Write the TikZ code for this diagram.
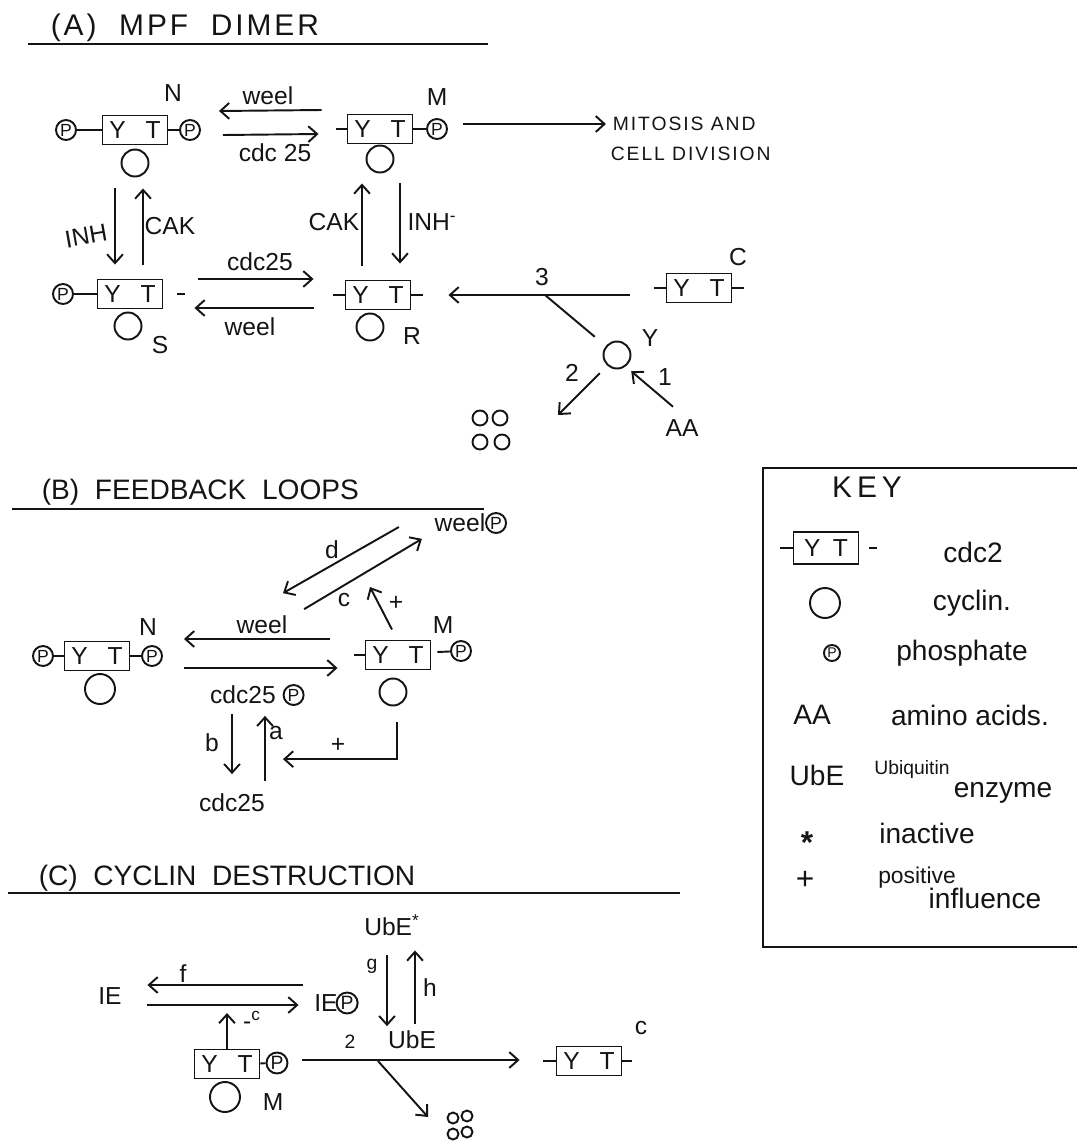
\documentclass[tikz,border=0pt]{standalone}
\usepackage{fontspec}
\setmainfont{Liberation Sans}
\newfontfamily\capsfont[LetterSpace=10]{Liberation Sans}
\usepackage{xcolor}
\usepackage{tikz}
\usetikzlibrary{arrows.meta,positioning}
\definecolor{ink}{HTML}{141414}

\begin{document}
\begin{tikzpicture}[x=0.02cm,y=-0.02cm,>={Straight Barb[length=5pt,width=9pt]},
  ink,line width=1.1pt,
  every node/.style={font=\fontsize{14}{16}\selectfont},
  cdcbox/.style={draw,rectangle,minimum width=1.3cm,minimum height=0.58cm,inner sep=0pt},
  cyc/.style={draw,circle,minimum size=0.54cm,inner sep=0pt},
  phos/.style={draw,circle,minimum size=0.4cm,inner sep=0pt,font=\fontsize{10}{10}\selectfont},
  frag/.style={draw,circle,minimum size=0.3cm,inner sep=0pt},
  title/.style={anchor=west,font=\fontsize{16}{18}\selectfont},
  small/.style={font=\fontsize{11}{12}\selectfont},
  keytx/.style={font=\fontsize{16}{18}\selectfont}]
  \useasboundingbox (0,0) rectangle (1077,1144);

  % (A) MPF dimer
  \node[title,font=\capsfont\fontsize{17}{19}\selectfont] (ttlA) at (44,28) {(A)\ \ MPF\ \ DIMER};
  \draw (28,44) -- (488,44);

  \node[cdcbox] (nbox) at (135,130) {Y\hspace{.8em}T};
  \node[phos] (nPl) at (66,130) {P};
  \node[phos] (nPr) at (190,130) {P};
  \node[cyc] (ncyc) at (135,163) {};
  \node (nlab) at (173,93) {N};
  \draw (nPl) -- (nbox);
  \draw (nbox) -- (nPr);

  \node[cdcbox] (mbox) at (380,129) {Y\hspace{.8em}T};
  \node[phos] (mPr) at (437,129) {P};
  \node[cyc] (mcyc) at (380,159) {};
  \node (mlab) at (437,97) {M};
  \draw (mbox) -- (mPr);
  \draw (mbox.west) -- ++(-11,0);

  \node[anchor=west,font=\capsfont\fontsize{11}{12}\selectfont] (mitosis) at (606,124) {MITOSIS AND};
  \node[anchor=west,font=\capsfont\fontsize{11}{12}\selectfont] (celldiv) at (604,154) {CELL DIVISION};
  \draw[->] ([shift={(15,-5)}]mPr.east) -- (mitosis.west);

  \draw[->] ([shift={(-25,-19)}]mbox.west) -- ([shift={(18,-19)}]nPr.east);
  \draw[->] ([shift={(22,5)}]nPr.east) -- ([shift={(-28,5)}]mbox.west);
  \node (weelA) at (268,96) {weel};
  \node (cdcA) at (275,153) {cdc 25};

  \node[cdcbox] (sbox) at (130,294) {Y\hspace{.8em}T};
  \node[phos] (sPl) at (63,294) {P};
  \node[cyc] (scyc) at (128,326) {};
  \node (slab) at (160,345) {S};
  \draw (sPl) -- (sbox);
  \draw ([shift={(14,0)}]sbox.east) -- ++(8,0);

  \node[cdcbox] (rbox) at (378,295) {Y\hspace{.8em}T};
  \node[cyc] (rcyc) at (370,327) {};
  \node (rlab) at (412,336) {R};
  \draw (rbox.west) -- ++(-12,0);
  \draw (rbox.east) -- ++(12,0);

  \draw[->] ([shift={(-20,11)}]ncyc.south) -- ([shift={(-15,-14)}]sbox.north);
  \draw[->] ([shift={(13,-14)}]sbox.north) -- ([shift={(8,11)}]ncyc.south);
  \draw[->] ([shift={(-16,-14)}]rbox.north) -- ([shift={(-18,10)}]mcyc.south);
  \draw[->] ([shift={(20,10)}]mcyc.south) -- ([shift={(22,-16)}]rbox.north);
  \node[rotate=10] (inhL) at (86,236) {INH};
  \node (cakL) at (170,226) {CAK};
  \node (cakR) at (334,222) {CAK};
  \node (inhR) at (432,222) {INH\textsuperscript{-}};

  \draw[->] ([shift={(35,-15)}]sbox.east) -- ([shift={(-31,-16)}]rbox.west);
  \draw[->] ([shift={(-31,13)}]rbox.west) -- ([shift={(31,14)}]sbox.east);
  \node (cdcS) at (260,262) {cdc25};
  \node (weelS) at (250,327) {weel};

  \node[cdcbox] (cbox) at (699,288) {Y\hspace{.8em}T};
  \node (clab) at (738,257) {C};
  \draw (cbox.west) -- ++(-12,0);
  \draw (cbox.east) -- ++(12,0);
  \draw[->] ([shift={(-36,7)}]cbox.west) -- ([shift={(37,0)}]rbox.east);
  \node (three) at (542,277) {3};
  \coordinate (br3) at (545,295);
  \node[cyc] (ycyc) at (617,355) {};
  \node (ylab) at (650,338) {Y};
  \draw (br3) -- ([shift={(-12,-8)}]ycyc.north west);

  \node (aa) at (682,428) {AA};
  \draw[->] ([shift={(-9,-6)}]aa.north) -- ([shift={(4,6)}]ycyc.south east);
  \node (one) at (665,377) {1};
  \coordinate (degr) at (558,415);
  \draw[->] ([shift={(-7,8)}]ycyc.south west) -- (degr);
  \node (two) at (572,373) {2};
  \node[frag] (fa1) at (480,418) {};
  \node[frag] (fa2) at (500,418) {};
  \node[frag] (fa3) at (480,442) {};
  \node[frag] (fa4) at (502,442) {};

  % (B) feedback loops
  \node[title] (ttlB) at (35,492) {(B)\ \ FEEDBACK\ \ LOOPS};
  \draw (12,509) -- (484,509);

  \node[cdcbox] (bnbox) at (97,656) {Y\hspace{.8em}T};
  \node[phos] (bnPl) at (43,656) {P};
  \node[phos] (bnPr) at (152,656) {P};
  \node[cyc,minimum size=.6cm] (bncyc) at (100,689) {};
  \node (bnlab) at (148,627) {N};
  \draw (bnPl) -- (bnbox);
  \draw (bnbox) -- (bnPr);

  \node[cdcbox] (bmbox) at (398,655) {Y\hspace{.8em}T};
  \node[phos] (bmPr) at (461,651) {P};
  \node[cyc] (bmcyc) at (393,692) {};
  \node (bmlab) at (443,625) {M};
  \draw (bmbox.west) -- ++(-11,0);
  \draw ([shift={(6,-3)}]bmbox.east) -- (bmPr);

  \draw[->] ([shift={(-35,-16)}]bmbox.west) -- ([shift={(21,-17)}]bnPr.east);
  \draw[->] ([shift={(21,12)}]bnPr.east) -- ([shift={(-27,13)}]bmbox.west);
  \node (bweel) at (262,625) {weel};
  \node (cdcp) at (243,695) {cdc25};
  \node[phos,right=0pt of cdcp] (cdcpP) {P};

  \node (weelt) at (460,523) {weel};
  \node[phos,right=-4pt of weelt] (weelP) {P};
  \draw[->] ([shift={(-29,4)}]weelt.west) -- ([shift={(21,-16)}]bweel.north);
  \draw[->] ([shift={(10,0)}]bweel.north east) -- ([shift={(-6,0)}]weelt.south west);
  \node (dlab) at (332,550) {d};
  \node (clabB) at (344,600) {c};
  \coordinate (cpt) at (370,587);
  \draw[->] ([shift={(-6,-10)}]bmbox.north) -- (cpt);
  \node (plusB) at (396,603) {+};

  \node (bcdc) at (232,803) {cdc25};
  \draw[->] ([shift={(-11,3)}]cdcp.south) -- ([shift={(0,-13)}]bcdc.north);
  \draw[->] ([shift={(33,-6)}]bcdc.north) -- ([shift={(22,5)}]cdcp.south);
  \draw[->] ([shift={(4,16)}]bmcyc.south) |- ([shift={(51,-28)}]bcdc.north);
  \node (plusF) at (338,745) {+};
  \node (blab) at (212,743) {b};
  \node (alab) at (276,733) {a};

  % (C) cyclin destruction
  \node[title] (ttlC) at (32,878) {(C)\ \ CYCLIN\ \ DESTRUCTION};
  \draw (8,893) -- (680,893);

  \node (ubes) at (392,925) {UbE\textsuperscript{*}};
  \node (ube) at (412,1040) {UbE};
  \node (ie) at (110,996) {IE};
  \node (iet) at (326,1003) {IE};
  \node[phos,minimum size=.42cm,font=\fontsize{11}{11}\selectfont,right=-5pt of iet] (ieP) {P};
  \draw[->] ([shift={(-5,-18)}]iet.west) -- ([shift={(19,-11)}]ie.east);
  \draw[->] ([shift={(19,9)}]ie.east) -- ([shift={(-9,2)}]iet.west);
  \node (flab) at (183,974) {f};

  \draw[->] ([shift={(-5,13)}]ubes.south) -- ([shift={(-25,2)}]ube.north);
  \draw[->] ([shift={(3,0)}]ube.north) -- ([shift={(23,8)}]ubes.south);
  \node[small] (glab) at (372,966) {g};
  \node (hlab) at (430,988) {h};

  \node[cdcbox] (cmbox) at (227,1064) {Y\hspace{.8em}T};
  \node[phos,minimum size=.42cm,font=\fontsize{11}{11}\selectfont] (cmP) at (277,1063) {P};
  \node[cyc,minimum size=.6cm] (cmcyc) at (225,1097) {};
  \node (cmlab) at (273,1102) {M};
  \draw (cmbox) -- (cmP);
  \coordinate (ept) at (227,1013);
  \draw[->] (cmbox.north) -- (ept);
  \node (elab) at (252,1020) {-\textsuperscript{c}};

  \node[cdcbox] (ccbox) at (589,1061) {Y\hspace{.8em}T};
  \node (cclab) at (641,1028) {c};
  \draw (ccbox.west) -- ++(-13,0);
  \draw (ccbox.east) -- ++(10,0);
  \draw[->] ([shift={(14,-3)}]cmP.east) -- ([shift={(-36,-1)}]ccbox.west);
  \node[small] (twoC) at (350,1042) {2};
  \coordinate (br2) at (378,1061);
  \coordinate (degr2) at (428,1117);
  \draw[->] (br2) -- (degr2);
  \node[frag,minimum size=.22cm] (fc1) at (453,1118) {};
  \node[frag,minimum size=.22cm] (fc2) at (467,1116) {};
  \node[frag,minimum size=.22cm] (fc3) at (453,1134) {};
  \node[frag,minimum size=.22cm] (fc4) at (467,1132) {};

  % key
  \draw (1077,468) -- (763,468) -- (763,947) -- (1077,947);
  \node[font=\capsfont\fontsize{17}{19}\selectfont] (keyt) at (867,487) {K\,E\,Y};
  \node[cdcbox,minimum height=.64cm] (kbox) at (826,548) {Y\hspace{.5em}T};
  \draw (kbox.west) -- ++(-13,0);
  \draw ([shift={(10,0)}]kbox.east) -- ++(8,0);
  \node[keytx] (kcdc) at (973,552) {cdc2};
  \node[cyc,minimum size=.6cm] (kcyc) at (825,603) {};
  \node[keytx] (kcyctx) at (972,603) {cyclin.};
  \node[phos,minimum size=.32cm,font=\fontsize{8}{8}\selectfont] (kP) at (832,653) {P};
  \node[keytx] (kPtx) at (962,653) {phosphate};
  \node[keytx] (kaa) at (812,715) {AA};
  \node[keytx] (kaatx) at (970,715) {amino acids.};
  \node[keytx] (kube) at (817,775) {UbE};
  \node[small] (kubtx) at (912,769) {Ubiquitin};
  \node[keytx] (kenz) at (1003,793) {enzyme};
  \node[font=\bfseries\fontsize{18}{18}\selectfont,inner sep=0pt] (kstar) at (807,843) {*};
  \node[keytx] (kina) at (927,833) {inactive};
  \node[font=\fontsize{18}{18}\selectfont,inner sep=0pt] (kplus) at (805,880) {+};
  \node[font=\fontsize{13}{14}\selectfont] (kpos) at (917,878) {positive};
  \node[keytx] (kinf) at (985,898) {influence};
\end{tikzpicture}
\end{document}
